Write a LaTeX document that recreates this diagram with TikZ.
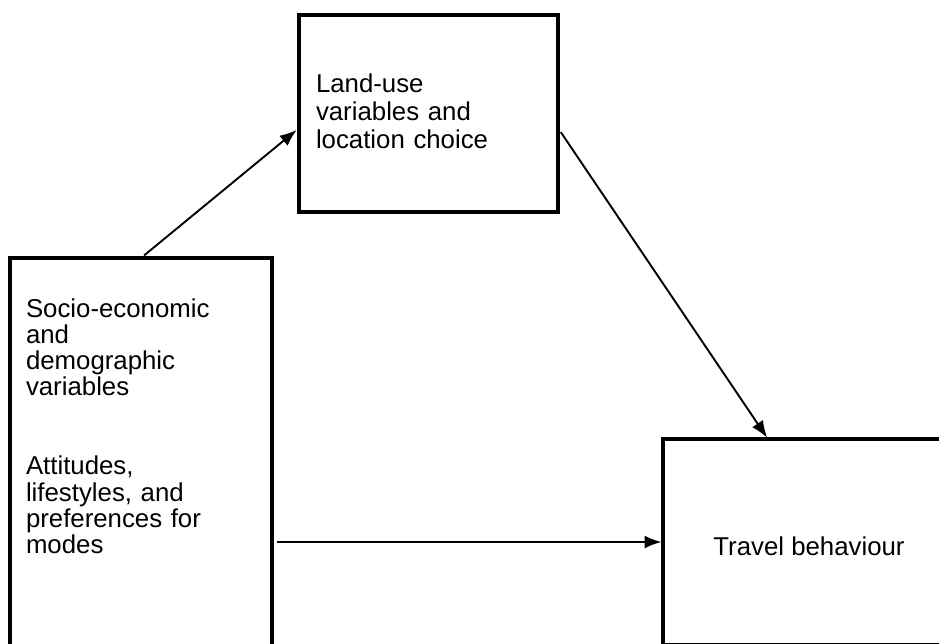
\documentclass[tikz,border=0pt]{standalone}
\usepackage{fontspec}
\setmainfont{Liberation Sans}
\usetikzlibrary{arrows.meta}

\begin{document}
\begin{tikzpicture}[x=1pt, y=-1pt,
    box/.style={draw, line width=3.2pt, outer sep=0pt, align=left, anchor=north west,
                font=\fontsize{25.8}{26.3}\selectfont},
    link/.style={line width=1.9pt, -{Latex[length=17pt,width=13pt]}}]
  % page frame
  \clip (0,0) rectangle (939,643);

  \node[box, inner xsep=17pt, inner ysep=19pt, text width=225pt,
        text height=58pt, text depth=101pt, font=\fontsize{25.8}{28}\selectfont]
    (land) at (299,15) {Land-use\\variables and\\location choice};

  \node[box, inner xsep=16pt, inner ysep=19pt, text width=230pt,
        text height=40pt, text depth=330pt]
    (socio) at (10,258) {Socio-economic\\and\\demographic\\variables\\[2\baselineskip]
      Attitudes,\\lifestyles, and\\preferences for\\modes};

  \node[box, inner sep=0pt, minimum width=292pt, minimum height=206pt,
        text height=26pt, text depth=0pt, align=center]
    (travel) at (663,439) {Travel behaviour};

  % arrows
  \draw[link, shorten <=4pt, shorten >=3pt] (socio.north) -- ([yshift=-14.5pt]land.west);
  \draw[link, shorten <=5pt, shorten >=1.5pt] ([yshift=-14.5pt]land.east) -- ([xshift=105pt]travel.north west);
  \draw[link, shorten <=5pt, shorten >=1.5pt] (socio.east |- travel.west) -- (travel.west);
\end{tikzpicture}
\end{document}
